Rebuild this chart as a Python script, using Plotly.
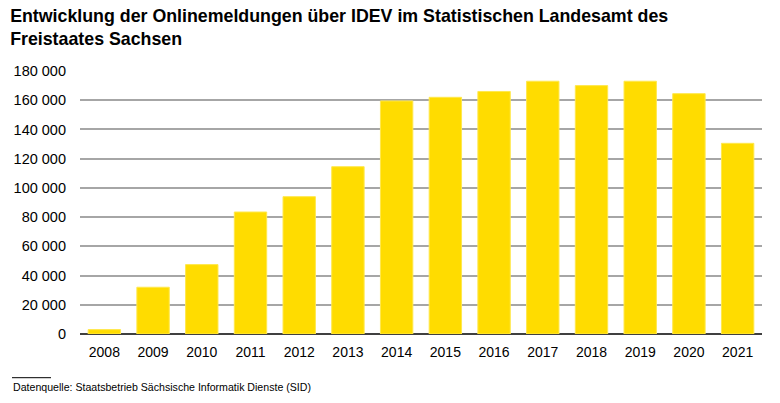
import plotly.graph_objects as go

years = ["2008", "2009", "2010", "2011", "2012", "2013", "2014", "2015",
         "2016", "2017", "2018", "2019", "2020", "2021"]
meldungen = [3000, 32000, 47500, 83500, 94000, 114500, 159500, 162000,
             166000, 173000, 170000, 173000, 164500, 130500]
y_ticks = [0, 20000, 40000, 60000, 80000, 100000, 120000, 140000, 160000, 180000]

title_text = ("Entwicklung der Onlinemeldungen über IDEV im Statistischen Landesamt des"
              "<br>Freistaates Sachsen")
source_text = "Datenquelle: Staatsbetrieb Sächsische Informatik Dienste (SID)"

fig = go.Figure()
fig.add_trace(go.Bar(
    x=years, y=meldungen,
    marker=dict(color="#FFDC00", line=dict(color="#FFE84D", width=1)),
))

fig.update_layout(
    width=780, height=403,
    margin=dict(l=80, r=18, t=71, b=69),
    paper_bgcolor="white", plot_bgcolor="white",
    font=dict(family="Liberation Sans, Arial, sans-serif", size=14, color="#000000"),
    separators=", ",
    bargap=0.335,
    showlegend=False,
    title=dict(text=title_text, x=0.013, xanchor="left", y=0.945, yanchor="top",
               font=dict(size=17.8, color="#000000", family="Liberation Sans, Arial, sans-serif", weight="bold")),
    xaxis=dict(showgrid=False, showline=False, ticks="", tickfont=dict(size=14),
               ticklabelstandoff=8),
    yaxis=dict(range=[0, 180000], tickvals=y_ticks, tickformat=",d",
               showgrid=True, gridcolor="#A6A6A6", gridwidth=1.5,
               zeroline=True, zerolinecolor="#404040", zerolinewidth=2,
               ticks="", ticklabelstandoff=13, tickfont=dict(size=14.5)),
    shapes=[dict(type="line", xref="paper", yref="paper",
                 x0=-68/682, x1=-29/682, y0=-43.7/263, y1=-43.7/263,
                 line=dict(color="#000000", width=1))],
    annotations=[dict(text=source_text, xref="paper", yref="paper",
                      x=-69/682, y=-52.7/263, xanchor="left", yanchor="middle",
                      showarrow=False, font=dict(size=10.6, color="#000000"))],
)

fig.write_html("out.html", config={"displayModeBar": False},
               post_script="document.body.style.margin='0px';")
